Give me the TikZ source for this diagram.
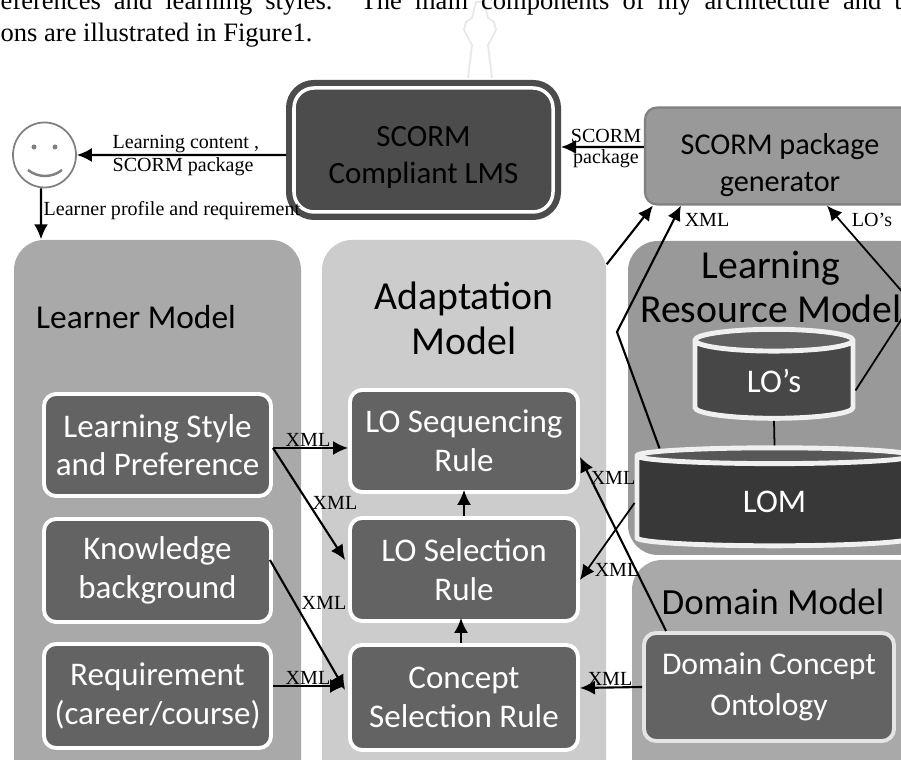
\documentclass[tikz,border=0pt]{standalone}
\usepackage{fontspec}
\setmainfont{Liberation Serif}
\newfontfamily\boxfont{Carlito}
\usetikzlibrary{arrows.meta}
\usetikzlibrary{shapes}
\usetikzlibrary{shapes.geometric}
\definecolor{learnergray}{HTML}{A9A9A9}
\definecolor{adaptgray}{HTML}{CCCCCC}
\definecolor{resourcegray}{HTML}{999999}
\definecolor{rulegray}{HTML}{636363}
\definecolor{lmsgray}{HTML}{4C4C4C}
\tikzstyle{panel} = [rectangle, rounded corners=.3cm, fill=#1, inner sep=0pt]
\tikzstyle{rulebox} = [rectangle, rounded corners=.12cm, fill=rulegray, draw=white,
line width=1.1pt, inner sep=0pt, text=white, align=center, font=\boxfont\fontsize{9.4}{11}\selectfont]
\tikzstyle{store} = [cylinder, shape border rotate=90, draw=white!94!black, line width=1.4pt,
cylinder uses custom fill, inner sep=0pt, text=white, font=\boxfont\fontsize{9.4}{11}\selectfont]
\tikzstyle{bigtext} = [align=center, inner sep=0pt, font=\boxfont\fontsize{11.3}{12.8}\selectfont]
\tikzstyle{small} = [inner sep=0pt, align=center, font=\fontsize{5.7}{6.6}\selectfont]
\tikzstyle{conn} = [-{Latex[length=.15cm,width=.14cm]}, black, line width=.6pt]
\tikzstyle{plainconn} = [black, line width=.5pt]
\begin{document}
\begin{tikzpicture}
    \useasboundingbox (0,0) rectangle (9.01,7.6);
    \clip (0,0) rectangle (9.01,7.6);
    \fill[white] (0,0) rectangle (9.01,7.6);
    % page text above the figure
    \draw[gray!18, line width=.5pt] (4.68,6.82) -- (4.72,7.15) -- (4.64,7.3) -- (4.66,7.38) -- (4.72,7.42) -- (4.76,7.58)
        -- (4.84,7.58) -- (4.88,7.42) -- (4.94,7.38) -- (4.96,7.3) -- (4.88,7.15) -- (4.92,6.82);
    \node[anchor=west, inner sep=0pt, font=\fontsize{7.55}{9}\selectfont] (line1) at (0,7.57)
        {\makebox[9.01cm][s]{eferences and learning styles. The main components of my architecture and t}};
    \node[anchor=west, inner sep=0pt, font=\fontsize{7.55}{9}\selectfont] (line2) at (0,7.25) {ons are illustrated in Figure1.};

    % models
    \node[panel=learnergray, minimum width=2.87cm, minimum height=5.5cm] (learner) at (1.575,2.45) {};
    \node[panel=adaptgray, minimum width=2.84cm, minimum height=5.5cm] (adapt) at (4.64,2.45) {};
    \node[panel=resourcegray, minimum width=3.02cm, minimum height=3.14cm] (resource) at (7.79,3.62) {};
    \node[panel=learnergray, minimum width=2.98cm, minimum height=2.4cm] (domain) at (7.81,.8) {};

    \node[bigtext, font=\boxfont\fontsize{9.5}{12.8}\selectfont] (learnerlabel) at (1.36,4.43) {Learner Model};
    \node[bigtext] (adaptlabel) at (4.64,4.42) {Adaptation\\Model};
    \node[bigtext] (resourcelabel) at (7.71,4.73) {Learning\\Resource Model};
    \node[bigtext, font=\boxfont\fontsize{10.5}{12.8}\selectfont] (domainlabel) at (7.73,1.58) {Domain Model};

    % rule boxes
    \node[rulebox, minimum width=2.27cm, minimum height=1.02cm] (style) at (1.575,3.15) {Learning Style\\and Preference};
    \node[rulebox, minimum width=2.27cm, minimum height=1.03cm] (knowledge) at (1.575,1.895) {Knowledge\\background};
    \node[rulebox, minimum width=2.27cm, minimum height=1.04cm] (requirement) at (1.575,.64) {Requirement\\(career/course)};
    \node[rulebox, minimum width=2.28cm, minimum height=1.02cm] (sequencing) at (4.64,3.19) {LO Sequencing\\Rule};
    \node[rulebox, minimum width=2.28cm, minimum height=1.03cm] (selection) at (4.64,1.905) {LO Selection\\Rule};
    \node[rulebox, minimum width=2.28cm, minimum height=1.05cm] (concept) at (4.64,.625) {Concept\\Selection Rule};
    \node[rulebox, minimum width=2.5cm, minimum height=1.08cm, draw=white!90!black, font=\boxfont\fontsize{9}{11.6}\selectfont] (ontology) at (7.69,.73) {Domain Concept\\Ontology};

    % stores
    \node[store, minimum width=1.58cm, minimum height=.89cm, aspect=.4, cylinder body fill=black!72, cylinder end fill=black!62] (los) at (7.74,3.795) {LO’s};
    \node[store, minimum width=2.75cm, minimum height=.98cm, aspect=.25, cylinder body fill=black!78, cylinder end fill=black!66] (lom) at (7.745,2.58) {LOM};

    % top row
    \node[rectangle, rounded corners=.2cm, fill=lmsgray, draw=white, line width=1pt, minimum width=2.59cm, minimum height=1.24cm,
        inner sep=0pt, outer sep=.08cm, align=center, font=\boxfont\fontsize{8.8}{10.5}\selectfont,
        preaction={draw=lmsgray, line width=.16cm}] (lms) at (4.235,6.1) {\rule{0pt}{10pt}SCORM\\Compliant LMS};
    \node[rectangle, rounded corners=.12cm, fill=resourcegray, draw=black!50, line width=.6pt, minimum width=2.7cm, minimum height=.97cm,
        inner sep=0pt, align=center, font=\boxfont\fontsize{8.6}{10.5}\selectfont] (generator) at (7.8,6.04) {\rule{0pt}{11pt}SCORM package\\generator};
    \node[ellipse, draw=gray, fill=white, line width=.5pt, minimum width=.63cm, minimum height=.65cm, inner sep=0pt] (learnerface) at (.445,6.05) {};
    \fill[gray] (.34,6.13) circle (.025) (.55,6.13) circle (.025);
    \draw[gray, line width=.7pt] (.28,5.9) .. controls (.38,5.82) and (.52,5.82) .. (.62,5.9);
    \coordinate (bendleft) at (6.17,4.28);
    \coordinate (bendright) at (9.12,4.57);

    % connectors
    \draw[conn] ([yshift=-.05cm]lms.west) -- (learnerface.east);
    \draw[conn] ([yshift=.09cm]generator.west) -- ([yshift=.03cm]lms.east);
    \draw[conn] ([xshift=-.035cm]learnerface.south) -- ([xshift=-1.165cm]learner.north);
    \draw[conn] ([yshift=-.25cm]adapt.north east) -- ([xshift=.09cm]generator.south west);
    \draw[conn] ([xshift=-1.15cm,yshift=-.03cm]lom.north) -- (bendleft) -- ([xshift=.37cm]generator.south west);
    \draw[conn, line width=.5pt] ([yshift=-.1cm]los.east) -- (bendright) -- ([xshift=1.83cm]generator.south west);
    \draw[plainconn] (los.south) -- (lom.north);
    \draw[conn, line width=.5pt] ([yshift=-.01cm]lom.west) -- ([yshift=-.105cm]selection.east);
    \draw[conn] ([xshift=.24cm]ontology.north west) -- ([yshift=-.16cm]sequencing.east);
    \draw[conn] (ontology.west) -- ([yshift=.095cm]concept.east);
    \draw[conn] (selection.north) -- ([yshift=.04cm]sequencing.south);
    \draw[conn] ([xshift=-.03cm]concept.north) -- ([xshift=-.03cm,yshift=.05cm]selection.south);
    \draw[conn] ([yshift=-.03cm]style.east) -- ([yshift=-.07cm]sequencing.west);
    \draw[conn] ([yshift=-.03cm]style.east) -- ([yshift=.095cm,xshift=-.03cm]selection.west);
    \draw[conn] ([xshift=-.03cm,yshift=.105cm]knowledge.east) -- ([yshift=.075cm,xshift=-.03cm]concept.west);
    \draw[conn] ([yshift=.1cm]requirement.east) -- ([yshift=.115cm,xshift=-.03cm]concept.west);

    % labels
    \node[small, anchor=west] (contentlabel) at (1.12,6.16) {Learning content ,};
    \node[small, anchor=west] (packagelabel) at (1.12,5.93) {SCORM package};
    \node[small] (scormlabel) at (6.06,6.24) {SCORM};
    \node[small] (packlabel) at (6.06,6.01) {package};
    \node[small, anchor=west] (profilelabel) at (.43,5.49) {Learner profile and requirement};
    \node[small] (xmltop) at (7.07,5.4) {XML};
    \node[small] (lotop) at (8.72,5.4) {LO’s};
    \node[small] (xmla) at (3.08,3.2) {XML};
    \node[small] (xmlb) at (3.35,2.57) {XML};
    \node[small] (xmlc) at (3.24,1.57) {XML};
    \node[small] (xmld) at (3.08,.82) {XML};
    \node[small] (xmle) at (6.13,2.82) {XML};
    \node[small] (xmlf) at (6.17,1.9) {XML};
    \node[small] (xmlg) at (6.1,.81) {XML};
\end{tikzpicture}
\end{document}
